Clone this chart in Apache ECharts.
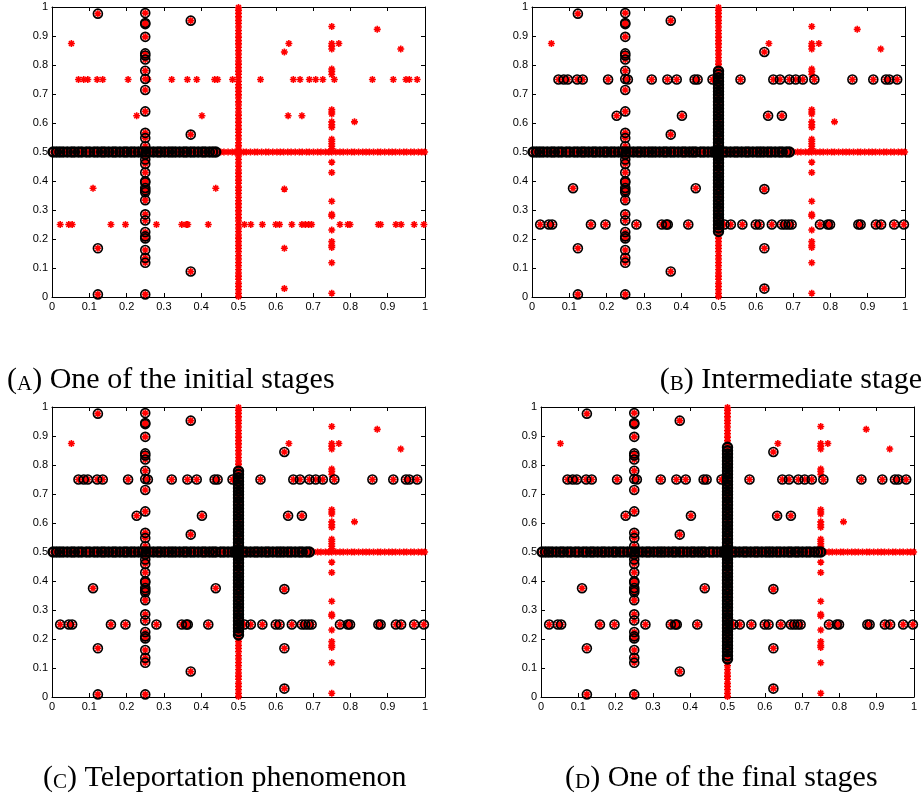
<!DOCTYPE html>
<html>
<head>
<meta charset="utf-8">
<script src="https://cdn.jsdelivr.net/npm/echarts@6/dist/echarts.min.js"></script>
<style>
  html, body { margin: 0; padding: 0; background: #fff; }
  #report { width: 923px; height: 797px; }
</style>
</head>
<body>
<div id="report"></div>
<script>
// tick labels shared by every axis
var tickValues = [0, 0.1, 0.2, 0.3, 0.4, 0.5, 0.6, 0.7, 0.8, 0.9, 1];
var tickLabels = ['0', '0.1', '0.2', '0.3', '0.4', '0.5', '0.6', '0.7', '0.8', '0.9', '1'];

// agents on the x = 0.25 column (always circled)
var colQuarterY = [0.979, 0.945, 0.941, 0.897, 0.840, 0.833, 0.819, 0.780, 0.752, 0.714, 0.640,
  0.566, 0.548, 0.520, 0.491, 0.474, 0.459, 0.429, 0.399, 0.395, 0.376, 0.368, 0.361, 0.334,
  0.285, 0.264, 0.224, 0.209, 0.202, 0.162, 0.135, 0.118, 0.009];
// isolated agents that are circled in every stage
var fixedCircled = [[0.123, 0.977], [0.123, 0.168], [0.123, 0.009], [0.372, 0.953], [0.372, 0.560], [0.372, 0.088]];
// agents on the y = 0.75 row
var rowHighX = [0.071, 0.085, 0.096, 0.121, 0.136, 0.204, 0.257, 0.321, 0.363, 0.388, 0.436, 0.444,
  0.484, 0.559, 0.647, 0.665, 0.690, 0.707, 0.726, 0.757, 0.859, 0.915, 0.949, 0.958, 0.979];
// agents on the y = 0.25 row
var rowLowX = [0.022, 0.045, 0.054, 0.158, 0.197, 0.280, 0.348, 0.360, 0.364, 0.419, 0.516, 0.533,
  0.564, 0.600, 0.610, 0.643, 0.670, 0.679, 0.688, 0.696, 0.772, 0.793, 0.799, 0.875, 0.881,
  0.922, 0.936, 0.971, 0.997];
// isolated agents that get circled after the initial stage
var switchPts = [[0.227, 0.625], [0.402, 0.625], [0.110, 0.375], [0.439, 0.375], [0.623, 0.845],
  [0.633, 0.625], [0.670, 0.625], [0.623, 0.372], [0.623, 0.168], [0.623, 0.029]];
// isolated agents never circled
var strayPts = [[0.052, 0.874], [0.635, 0.874], [0.769, 0.874], [0.872, 0.923], [0.935, 0.855], [0.811, 0.604]];
// agents on the x = 0.75 column (never circled)
var colThreeQY = [0.933, 0.874, 0.865, 0.855, 0.786, 0.778, 0.767, 0.646, 0.638, 0.631, 0.604,
  0.594, 0.585, 0.544, 0.537, 0.529, 0.520, 0.511, 0.465, 0.429, 0.330, 0.285, 0.279, 0.231,
  0.191, 0.178, 0.171, 0.118, 0.013];
// dense agents on the y = 0.5 row
var lineX = [0.003, 0.012, 0.021, 0.030, 0.041, 0.052, 0.060, 0.071, 0.080, 0.092, 0.101, 0.113,
  0.122, 0.133, 0.141, 0.152, 0.163, 0.171, 0.182, 0.193, 0.201, 0.212, 0.221, 0.232, 0.243,
  0.252, 0.261, 0.272, 0.283, 0.291, 0.302, 0.313, 0.322, 0.331, 0.342, 0.353, 0.361, 0.372,
  0.381, 0.392, 0.403, 0.411, 0.422, 0.431, 0.439, 0.452, 0.461, 0.472, 0.483, 0.491, 0.502,
  0.513, 0.521, 0.532, 0.543, 0.551, 0.562, 0.573, 0.581, 0.592, 0.603, 0.612, 0.621, 0.632,
  0.641, 0.652, 0.663, 0.671, 0.682, 0.690, 0.701, 0.712, 0.721, 0.733, 0.742, 0.750, 0.761,
  0.772, 0.781, 0.792, 0.803, 0.811, 0.822, 0.833, 0.842, 0.851, 0.862, 0.873, 0.881, 0.892,
  0.903, 0.912, 0.921, 0.932, 0.943, 0.951, 0.962, 0.971, 0.982, 0.991, 0.999];
// dense agents on the x = 0.5 column
var lineY = [0.002, 0.013, 0.025, 0.036, 0.047, 0.061, 0.072, 0.083, 0.095, 0.108, 0.119, 0.131,
  0.142, 0.156, 0.167, 0.178, 0.191, 0.203, 0.214, 0.226, 0.238, 0.249, 0.262, 0.273, 0.285,
  0.297, 0.309, 0.321, 0.332, 0.344, 0.357, 0.368, 0.379, 0.392, 0.403, 0.415, 0.427, 0.438,
  0.451, 0.462, 0.474, 0.486, 0.497, 0.509, 0.521, 0.532, 0.545, 0.556, 0.568, 0.579, 0.591,
  0.603, 0.615, 0.627, 0.638, 0.650, 0.662, 0.673, 0.686, 0.697, 0.709, 0.721, 0.732, 0.744,
  0.756, 0.768, 0.779, 0.791, 0.803, 0.814, 0.826, 0.838, 0.849, 0.861, 0.873, 0.884, 0.896,
  0.908, 0.919, 0.931, 0.943, 0.954, 0.966, 0.978, 0.989, 0.998];

// per stage: circled part of the y=0.5 row, of the x=0.5 column, and whether the rest is circled
var stageLetters = ['A', 'B', 'C', 'D'];
var stageTexts = ['One of the initial stages', 'Intermediate stage', 'Teleportation phenomenon', 'One of the final stages'];
var rowCut = [0.44, 0.69, 0.69, 0.75];
var colFrom = [null, 0.22, 0.21, 0.12];
var colTo = [null, 0.78, 0.78, 0.87];
var othersCircled = [false, true, true, true];

var grids = [
  { left: 52, top: 7, width: 373, height: 290 },
  { left: 532, top: 7, width: 373, height: 290 },
  { left: 52, top: 407, width: 373, height: 290 },
  { left: 541, top: 407, width: 373, height: 290 }
];
var captionPos = [
  { left: 7, top: 365 },
  { right: 1, top: 365 },
  { left: 43, top: 763 },
  { left: 565, top: 763 }
];

var STAR = 'path://M5,0L5,10M0,5L10,5M1.5,1.5L8.5,8.5M1.5,8.5L8.5,1.5';
var fontLabel = 'Liberation Sans';

function tickText(v) {
	return tickLabels[tickValues.indexOf(Math.round(v * 10) / 10)];
}

// one axis of a panel; labels only on the bottom / left ones
function makeAxis(i, position, withLabels) {
	return {
		gridIndex: i, type: 'value', min: 0, max: 1, interval: 0.1,
		position: position,
		axisLine: { show: true, onZero: false, lineStyle: { color: '#000', width: 1 } },
		axisTick: { show: true, inside: true, length: 4, lineStyle: { color: '#000' } },
		splitLine: { show: false },
		axisLabel: withLabels
			? { color: '#000', fontSize: 11, fontFamily: fontLabel, margin: 4, formatter: tickText }
			: { show: false }
	};
}

function ringSeries(i, data, width) {
	return {
		type: 'scatter', xAxisIndex: 2 * i, yAxisIndex: 2 * i,
		symbol: 'circle', symbolSize: 9, data: data, silent: true,
		itemStyle: { color: 'rgba(0,0,0,0)', borderColor: '#000', borderWidth: width, opacity: 1 }
	};
}

var xAxes = [], yAxes = [], series = [], titles = [];

grids.forEach(function(g, i) {
	xAxes.push(makeAxis(i, 'bottom', true));
	xAxes.push(makeAxis(i, 'top', false));
	yAxes.push(makeAxis(i, 'left', true));
	yAxes.push(makeAxis(i, 'right', false));

	var agents = [], circled = [], crowd = [];
	colQuarterY.forEach(function(y) { agents.push([0.25, y]); circled.push([0.25, y]); });
	fixedCircled.forEach(function(p) { agents.push(p); circled.push(p); });
	rowHighX.forEach(function(x) { agents.push([x, 0.75]); if (othersCircled[i]) circled.push([x, 0.75]); });
	rowLowX.forEach(function(x) { agents.push([x, 0.25]); if (othersCircled[i]) circled.push([x, 0.25]); });
	switchPts.forEach(function(p) { agents.push(p); if (othersCircled[i]) circled.push(p); });
	strayPts.forEach(function(p) { agents.push(p); });
	colThreeQY.forEach(function(y) { agents.push([0.75, y]); });
	lineX.forEach(function(x) { agents.push([x, 0.5]); if (x <= rowCut[i]) crowd.push([x, 0.5]); });
	lineY.forEach(function(y) {
		agents.push([0.5, y]);
		if (colFrom[i] !== null && y >= colFrom[i] && y <= colTo[i]) crowd.push([0.5, y]);
	});

	// every agent as a red asterisk, the circled ones get a black ring on top
	series.push({
		type: 'scatter', xAxisIndex: 2 * i, yAxisIndex: 2 * i,
		symbol: STAR, symbolSize: 7, data: agents, silent: true,
		itemStyle: { color: '#ff0000', borderColor: '#ff0000', borderWidth: 1.6, opacity: 1 }
	});
	series.push(ringSeries(i, crowd, 2.4));
	series.push(ringSeries(i, circled, 1.6));

	var t = {
		text: '{p|(}{s|' + stageLetters[i] + '}{p|)} ' + stageTexts[i],
		padding: 0,
		textStyle: {
			fontFamily: 'Liberation Serif', fontSize: 30, fontWeight: 'normal', color: '#000',
			rich: {
				p: { fontFamily: 'Liberation Serif', fontSize: 30, color: '#000' },
				s: { fontFamily: 'Liberation Serif', fontSize: 21, color: '#000', verticalAlign: 'bottom' }
			}
		}
	};
	for (var k in captionPos[i]) t[k] = captionPos[i][k];
	titles.push(t);
});

var myChart = echarts.init(document.getElementById('report'));
myChart.setOption({
	animation: false,
	backgroundColor: '#fff',
	title: titles,
	grid: grids,
	xAxis: xAxes,
	yAxis: yAxes,
	series: series
});
</script>
</body>
</html>
